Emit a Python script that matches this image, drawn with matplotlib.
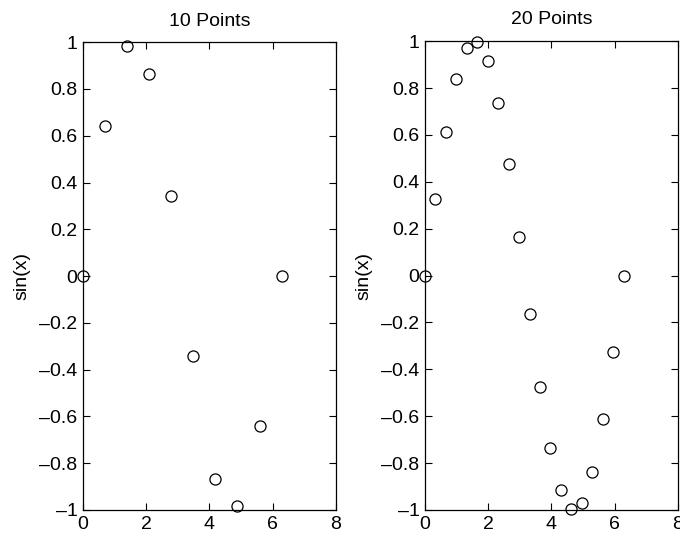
import matplotlib
matplotlib.use("Agg")
import matplotlib.pyplot as plt
from matplotlib.ticker import FuncFormatter

plt.rcParams['font.family'] = ['Liberation Sans', 'DejaVu Sans']

# values
x10 = [0.0, 0.698, 1.396, 2.094, 2.793, 3.491, 4.189, 4.887, 5.585, 6.283]
y10 = [0.0, 0.643, 0.985, 0.866, 0.342, -0.342, -0.866, -0.985, -0.643, 0.0]

x20 = [0.0, 0.331, 0.661, 0.992, 1.323, 1.653, 1.984, 2.315, 2.646, 2.976,
       3.307, 3.638, 3.968, 4.299, 4.630, 4.960, 5.291, 5.622, 5.952, 6.283]
y20 = [0.0, 0.325, 0.614, 0.837, 0.969, 0.997, 0.916, 0.736, 0.476, 0.165,
       -0.165, -0.476, -0.736, -0.916, -0.997, -0.969, -0.837, -0.614, -0.325, 0.0]

titles = ['10 Points', '20 Points']
xticks = [0, 2, 4, 6, 8]
yticks = [-1, -0.8, -0.6, -0.4, -0.2, 0, 0.2, 0.4, 0.6, 0.8, 1]


def fmt(v, pos):
    s = '%g' % round(v, 2)
    return s.replace('-', '\u2013')


fig = plt.figure(figsize=(6.8, 5.34), dpi=100)
ax1 = fig.add_axes([0.122, 0.045, 0.372, 0.876])
ax2 = fig.add_axes([0.625, 0.045, 0.372, 0.878])

for ax, xs, ys, t in [(ax1, x10, y10, titles[0]), (ax2, x20, y20, titles[1])]:
    ax.plot(xs, ys, 'o', mfc='none', mec='black', ms=8, mew=0.9, clip_on=False)
    ax.set_xlim(0, 8)
    ax.set_ylim(-1, 1)
    ax.set_xticks(xticks)
    ax.set_yticks(yticks)
    ax.yaxis.set_major_formatter(FuncFormatter(fmt))
    ax.tick_params(direction='in', top=True, right=True, length=5, width=0.8,
                   labelsize=14, pad=4)
    ax.set_title(t, fontsize=14, pad=12)
    ax.set_ylabel('sin(x)', fontsize=14, labelpad=6)
    for sp in ax.spines.values():
        sp.set_linewidth(0.9)

fig.savefig('out.png', dpi=100)
